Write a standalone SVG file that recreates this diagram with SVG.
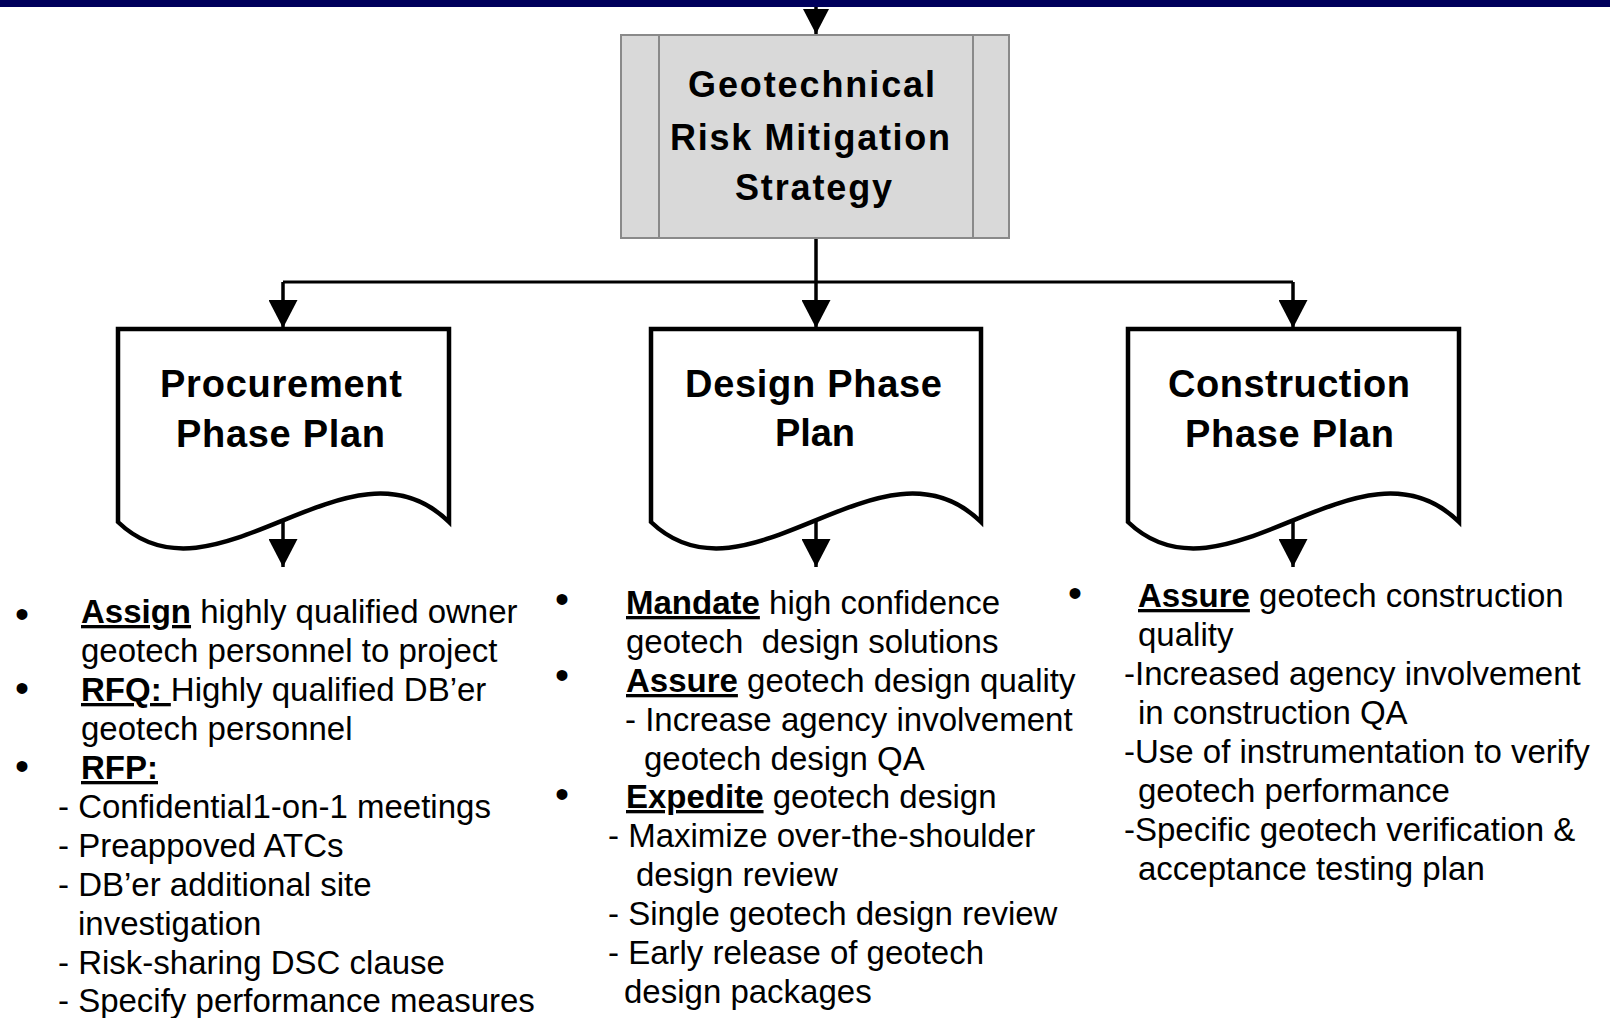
<svg xmlns="http://www.w3.org/2000/svg" width="1610" height="1018" viewBox="0 0 1610 1018">
  <style>
    .title { font-family: "Liberation Sans", Arial, sans-serif; font-weight: bold; fill: #000; }
    .body { font-family: "Liberation Sans", Arial, sans-serif; font-size: 33px; fill: #000; white-space: pre; }
    .kw { font-weight: bold; text-decoration: underline; }
    .bullet { font-family: "Liberation Sans", Arial, sans-serif; font-size: 40px; fill: #000; text-anchor: middle; }
    .doc { fill: #fff; stroke: #000; stroke-width: 4.5; stroke-linejoin: miter; }
    .conn { fill: none; stroke: #000; stroke-width: 3.5; }
  </style>
  <defs>
    <marker id="arrow" viewBox="0 0 28 29" refX="28" refY="14.5" markerWidth="28" markerHeight="29" markerUnits="userSpaceOnUse" orient="auto">
      <path d="M0,0 L28,14.5 L0,29 Z" fill="#000"/>
    </marker>
    <marker id="arrow-sm" viewBox="0 0 25 26" refX="25" refY="13" markerWidth="25" markerHeight="26" markerUnits="userSpaceOnUse" orient="auto">
      <path d="M0,0 L25,13 L0,26 Z" fill="#000"/>
    </marker>
  </defs>

  <rect width="1610" height="1018" fill="#fff"/>
  <!-- header band -->
  <rect x="0" y="0" width="1610" height="7" fill="#00005c"/>

  <!-- connectors -->
  <g id="connectors" class="conn">
    <path d="M816,7 V34" marker-end="url(#arrow-sm)"/>
    <path d="M816,238 V328" marker-end="url(#arrow)"/>
    <path d="M283,282 H1293" stroke-width="3"/>
    <path d="M283,282 V328" marker-end="url(#arrow)"/>
    <path d="M1293,282 V328" marker-end="url(#arrow)"/>
    <path d="M283,520 V567" marker-end="url(#arrow)"/>
    <path d="M816,520 V567" marker-end="url(#arrow)"/>
    <path d="M1293,520 V567" marker-end="url(#arrow)"/>
  </g>

  <!-- central strategy (predefined process box) -->
  <g id="strategy">
    <rect x="621" y="35" width="388" height="203" fill="#d9d9d9" stroke="#8a8a8a" stroke-width="2"/>
    <line x1="659" y1="35" x2="659" y2="238" stroke="#8a8a8a" stroke-width="2"/>
    <line x1="973" y1="35" x2="973" y2="238" stroke="#8a8a8a" stroke-width="2"/>
    <text class="title" font-size="36" x="688" y="97" textLength="247" lengthAdjust="spacing">Geotechnical</text>
    <text class="title" font-size="36" x="670" y="150" textLength="280" lengthAdjust="spacing">Risk Mitigation</text>
    <text class="title" font-size="36" x="735" y="200" textLength="157" lengthAdjust="spacing">Strategy</text>
  </g>

  <!-- phase plan documents -->
  <g id="procurement">
    <path class="doc" d="M118,329 H449 V522 C350,425 215,615 118,522 Z"/>
    <text class="title" font-size="38" x="160" y="397" textLength="242" lengthAdjust="spacing">Procurement</text>
    <text class="title" font-size="38" x="176" y="447" textLength="209" lengthAdjust="spacing">Phase Plan</text>
  </g>
  <g id="design">
    <path class="doc" d="M651,329 H981 V522 C882,425 748,615 651,522 Z"/>
    <text class="title" font-size="38" x="685" y="397" textLength="257" lengthAdjust="spacing">Design Phase</text>
    <text class="title" font-size="38" x="775" y="446" textLength="80" lengthAdjust="spacing">Plan</text>
  </g>
  <g id="construction">
    <path class="doc" d="M1128,329 H1459 V522 C1360,425 1225,615 1128,522 Z"/>
    <text class="title" font-size="38" x="1168" y="397" textLength="242" lengthAdjust="spacing">Construction</text>
    <text class="title" font-size="38" x="1185" y="447" textLength="209" lengthAdjust="spacing">Phase Plan</text>
  </g>

  <!-- procurement actions -->
  <g id="procurement-actions">
    <text class="bullet" x="22" y="628">•</text>
    <text class="bullet" x="22" y="702">•</text>
    <text class="bullet" x="22" y="780">•</text>
    <text class="body" x="81" y="623"><tspan class="kw">Assign</tspan> highly qualified owner</text>
    <text class="body" x="81" y="662">geotech personnel to project</text>
    <text class="body" x="81" y="701"><tspan class="kw">RFQ: </tspan>Highly qualified DB’er</text>
    <text class="body" x="81" y="740">geotech personnel</text>
    <text class="body" x="81" y="779"><tspan class="kw">RFP:</tspan></text>
    <text class="body" x="58" y="818">- Confidential1-on-1 meetings</text>
    <text class="body" x="58" y="857">- Preappoved ATCs</text>
    <text class="body" x="58" y="896">- DB’er additional site</text>
    <text class="body" x="78" y="935">investigation</text>
    <text class="body" x="58" y="974">- Risk-sharing DSC clause</text>
    <text class="body" x="58" y="1012">- Specify performance measures</text>
  </g>

  <!-- design actions -->
  <g id="design-actions">
    <text class="bullet" x="562" y="613">•</text>
    <text class="bullet" x="562" y="689">•</text>
    <text class="bullet" x="562" y="808">•</text>
    <text class="body" x="626" y="614"><tspan class="kw">Mandate</tspan> high confidence</text>
    <text class="body" x="626" y="653">geotech  design solutions</text>
    <text class="body" x="626" y="692"><tspan class="kw">Assure</tspan> geotech design quality</text>
    <text class="body" x="625" y="731">- Increase agency involvement</text>
    <text class="body" x="644" y="770">geotech design QA</text>
    <text class="body" x="626" y="808"><tspan class="kw">Expedite</tspan> geotech design</text>
    <text class="body" x="608" y="847">- Maximize over-the-shoulder</text>
    <text class="body" x="636" y="886">design review</text>
    <text class="body" x="608" y="925">- Single geotech design review</text>
    <text class="body" x="608" y="964">- Early release of geotech</text>
    <text class="body" x="624" y="1003">design packages</text>
  </g>

  <!-- construction actions -->
  <g id="construction-actions">
    <text class="bullet" x="1075" y="607">•</text>
    <text class="body" x="1138" y="607"><tspan class="kw">Assure</tspan> geotech construction</text>
    <text class="body" x="1138" y="646">quality</text>
    <text class="body" x="1124" y="685">-Increased agency involvement</text>
    <text class="body" x="1138" y="724">in construction QA</text>
    <text class="body" x="1124" y="763">-Use of instrumentation to verify</text>
    <text class="body" x="1138" y="802">geotech performance</text>
    <text class="body" x="1124" y="841">-Specific geotech verification &amp;</text>
    <text class="body" x="1138" y="880">acceptance testing plan</text>
  </g>
</svg>
